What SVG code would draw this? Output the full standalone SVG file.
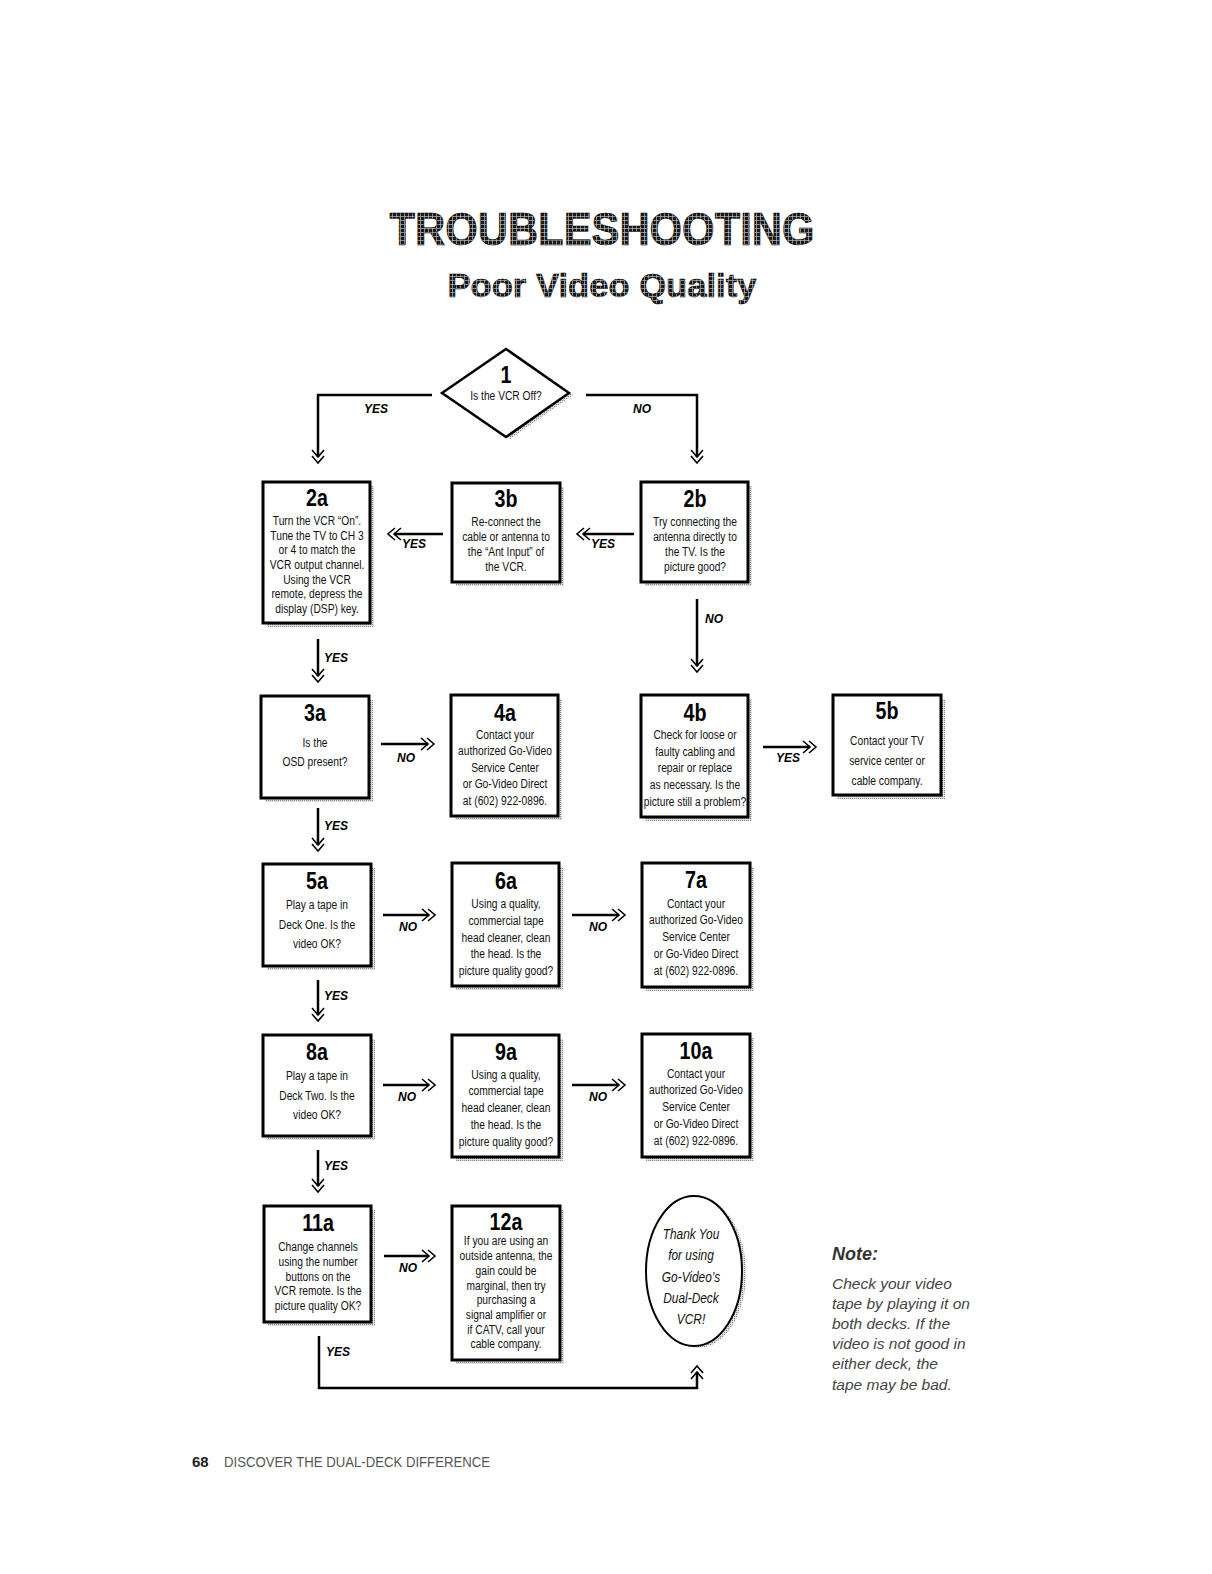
<svg xmlns="http://www.w3.org/2000/svg" width="1212" height="1574" viewBox="0 0 1212 1574">
<style>
.box{fill:#fff;stroke:#000;stroke-width:3}
.sh{fill:url(#dots)}
.hd{font-family:"Liberation Sans",Arial,sans-serif;font-weight:bold;font-size:24px;text-anchor:middle;fill:#000}
.bd{font-family:"Liberation Sans",Arial,sans-serif;font-size:12.5px;text-anchor:middle;fill:#111}
.lb{font-family:"Liberation Sans",Arial,sans-serif;font-weight:bold;font-style:italic;font-size:12px;text-anchor:middle;fill:#000}
.ls{font-family:"Liberation Sans",Arial,sans-serif;font-weight:bold;font-style:italic;font-size:12px;text-anchor:start;fill:#000}
.ln{fill:none;stroke:#000;stroke-width:2.5;marker-end:url(#chev)}
.ty{font-family:"Liberation Sans",Arial,sans-serif;font-style:italic;font-size:14px;text-anchor:middle;fill:#111}
.note{font-family:"Liberation Sans",Arial,sans-serif;font-style:italic;font-size:15.5px;fill:#444}
</style>
<defs>
<pattern id="dots" width="2" height="2" patternUnits="userSpaceOnUse"><rect width="2" height="2" fill="#e0e0e0"/><rect width="1" height="1" fill="#888"/></pattern>
<pattern id="ht" width="4" height="4" patternUnits="userSpaceOnUse"><rect width="4" height="4" fill="#1a1a1a"/><path d="M0,0.5H4M0.5,0V4" stroke="#bbb" stroke-width="0.7"/></pattern>
<marker id="chev" markerUnits="userSpaceOnUse" markerWidth="20" markerHeight="18" refX="8" refY="7" orient="auto" overflow="visible">
<path d="M1,1 L8,7 L1,13 M7,1 L14,7 L7,13" fill="none" stroke="#000" stroke-width="1.6"/>
</marker>
</defs>
<rect width="1212" height="1574" fill="#fff"/>

<g id="title">
<text x="602" y="245" font-family="Liberation Sans,Arial,sans-serif" font-weight="bold" font-size="46" text-anchor="middle" textLength="425" lengthAdjust="spacingAndGlyphs" fill="url(#ht)" stroke="#000" stroke-width="0.6">TROUBLESHOOTING</text>
<text x="602" y="297" font-family="Liberation Sans,Arial,sans-serif" font-weight="bold" font-size="33" text-anchor="middle" textLength="309" lengthAdjust="spacingAndGlyphs" fill="url(#ht)" stroke="#000" stroke-width="0.5">Poor Video Quality</text>
</g>

<g id="connectors">
<polyline class="ln" points="432,395 318,395 318,457"/>
<polyline class="ln" points="586,395 697,395 697,457"/>
<line class="ln" x1="634" y1="534" x2="583" y2="534"/>
<line class="ln" x1="443" y1="534" x2="394" y2="534"/>
<line class="ln" x1="697" y1="599" x2="697" y2="666"/>
<line class="ln" x1="318" y1="639" x2="318" y2="676"/>
<line class="ln" x1="381" y1="744" x2="428" y2="744"/>
<line class="ln" x1="763" y1="747" x2="810" y2="747"/>
<line class="ln" x1="318" y1="808" x2="318" y2="845"/>
<line class="ln" x1="383" y1="915" x2="429" y2="915"/>
<line class="ln" x1="572" y1="915" x2="619" y2="915"/>
<line class="ln" x1="318" y1="980" x2="318" y2="1015"/>
<line class="ln" x1="383" y1="1085" x2="429" y2="1085"/>
<line class="ln" x1="572" y1="1085" x2="619" y2="1085"/>
<line class="ln" x1="318" y1="1150" x2="318" y2="1186"/>
<line class="ln" x1="384" y1="1256" x2="429" y2="1256"/>
<polyline class="ln" points="319,1336 319,1388 697,1388 697,1372"/>
<text class="lb" x="376" y="413">YES</text>
<text class="lb" x="642" y="413">NO</text>
<text class="lb" x="603" y="548">YES</text>
<text class="lb" x="414" y="548">YES</text>
<text class="ls" x="705" y="623">NO</text>
<text class="ls" x="324" y="662">YES</text>
<text class="lb" x="406" y="762">NO</text>
<text class="lb" x="788" y="762">YES</text>
<text class="ls" x="324" y="830">YES</text>
<text class="lb" x="408" y="931">NO</text>
<text class="lb" x="598" y="931">NO</text>
<text class="ls" x="324" y="1000">YES</text>
<text class="lb" x="407" y="1101">NO</text>
<text class="lb" x="598" y="1101">NO</text>
<text class="ls" x="324" y="1170">YES</text>
<text class="lb" x="408" y="1272">NO</text>
<text class="ls" x="326" y="1356">YES</text>
</g>

<g id="n1">
<polygon points="446,395 510,351 573,395 510,439" fill="url(#dots)"/>
<polygon points="442,393 506,349 569,393 506,437" fill="#fff" stroke="#000" stroke-width="2.5"/>
<g transform="translate(506,0) scale(0.82,1)">
<text class="hd" x="0" y="383">1</text>
<text class="bd" x="0" y="400">Is the VCR Off?</text>
</g>
</g>

<g id="n2a">
<rect class="sh" x="267" y="486" width="107" height="141"/>
<rect class="box" x="263" y="482" width="107" height="141"/>
<g transform="translate(317,0) scale(0.82,1)">
<text class="hd" x="0" y="506">2a</text>
<text class="bd" x="0" y="525">Turn the VCR “On”.</text>
<text class="bd" x="0" y="540">Tune the TV to CH 3</text>
<text class="bd" x="0" y="554">or 4 to match the</text>
<text class="bd" x="0" y="569">VCR output channel.</text>
<text class="bd" x="0" y="584">Using the VCR</text>
<text class="bd" x="0" y="598">remote, depress the</text>
<text class="bd" x="0" y="613">display (DSP) key.</text>
</g>
</g>

<g id="n3b">
<rect class="sh" x="456" y="487" width="108" height="99"/>
<rect class="box" x="452" y="483" width="108" height="99"/>
<g transform="translate(506,0) scale(0.82,1)">
<text class="hd" x="0" y="507">3b</text>
<text class="bd" x="0" y="526">Re-connect the</text>
<text class="bd" x="0" y="541">cable or antenna to</text>
<text class="bd" x="0" y="556">the “Ant Input” of</text>
<text class="bd" x="0" y="571">the VCR.</text>
</g>
</g>

<g id="n2b">
<rect class="sh" x="645" y="486" width="107" height="100"/>
<rect class="box" x="641" y="482" width="107" height="100"/>
<g transform="translate(695,0) scale(0.82,1)">
<text class="hd" x="0" y="507">2b</text>
<text class="bd" x="0" y="526">Try connecting the</text>
<text class="bd" x="0" y="541">antenna directly to</text>
<text class="bd" x="0" y="556">the TV. Is the</text>
<text class="bd" x="0" y="571">picture good?</text>
</g>
</g>

<g id="n3a">
<rect class="sh" x="265" y="700" width="108" height="102"/>
<rect class="box" x="261" y="696" width="108" height="102"/>
<g transform="translate(315,0) scale(0.82,1)">
<text class="hd" x="0" y="721">3a</text>
<text class="bd" x="0" y="747">Is the</text>
<text class="bd" x="0" y="766">OSD present?</text>
</g>
</g>

<g id="n4a">
<rect class="sh" x="455" y="699" width="107" height="121"/>
<rect class="box" x="451" y="695" width="107" height="121"/>
<g transform="translate(505,0) scale(0.82,1)">
<text class="hd" x="0" y="721">4a</text>
<text class="bd" x="0" y="739">Contact your</text>
<text class="bd" x="0" y="755">authorized Go-Video</text>
<text class="bd" x="0" y="772">Service Center</text>
<text class="bd" x="0" y="788">or Go-Video Direct</text>
<text class="bd" x="0" y="805">at (602) 922-0896.</text>
</g>
</g>

<g id="n4b">
<rect class="sh" x="645" y="699" width="107" height="122"/>
<rect class="box" x="641" y="695" width="107" height="122"/>
<g transform="translate(695,0) scale(0.82,1)">
<text class="hd" x="0" y="721">4b</text>
<text class="bd" x="0" y="739">Check for loose or</text>
<text class="bd" x="0" y="756">faulty cabling and</text>
<text class="bd" x="0" y="772">repair or replace</text>
<text class="bd" x="0" y="789">as necessary. Is the</text>
<text class="bd" x="0" y="806">picture still a problem?</text>
</g>
</g>

<g id="n5b">
<rect class="sh" x="837" y="699" width="108" height="100"/>
<rect class="box" x="833" y="695" width="108" height="100"/>
<g transform="translate(887,0) scale(0.82,1)">
<text class="hd" x="0" y="719">5b</text>
<text class="bd" x="0" y="745">Contact your TV</text>
<text class="bd" x="0" y="765">service center or</text>
<text class="bd" x="0" y="785">cable company.</text>
</g>
</g>

<g id="n5a">
<rect class="sh" x="267" y="868" width="108" height="102"/>
<rect class="box" x="263" y="864" width="108" height="102"/>
<g transform="translate(317,0) scale(0.82,1)">
<text class="hd" x="0" y="889">5a</text>
<text class="bd" x="0" y="909">Play a tape in</text>
<text class="bd" x="0" y="929">Deck One. Is the</text>
<text class="bd" x="0" y="948">video OK?</text>
</g>
</g>

<g id="n6a">
<rect class="sh" x="456" y="867" width="107" height="123"/>
<rect class="box" x="452" y="863" width="107" height="123"/>
<g transform="translate(506,0) scale(0.82,1)">
<text class="hd" x="0" y="889">6a</text>
<text class="bd" x="0" y="908">Using a quality,</text>
<text class="bd" x="0" y="925">commercial tape</text>
<text class="bd" x="0" y="942">head cleaner, clean</text>
<text class="bd" x="0" y="958">the head. Is the</text>
<text class="bd" x="0" y="975">picture quality good?</text>
</g>
</g>

<g id="n7a">
<rect class="sh" x="646" y="867" width="108" height="124"/>
<rect class="box" x="642" y="863" width="108" height="124"/>
<g transform="translate(696,0) scale(0.82,1)">
<text class="hd" x="0" y="888">7a</text>
<text class="bd" x="0" y="908">Contact your</text>
<text class="bd" x="0" y="924">authorized Go-Video</text>
<text class="bd" x="0" y="941">Service Center</text>
<text class="bd" x="0" y="958">or Go-Video Direct</text>
<text class="bd" x="0" y="975">at (602) 922-0896.</text>
</g>
</g>

<g id="n8a">
<rect class="sh" x="267" y="1039" width="108" height="101"/>
<rect class="box" x="263" y="1035" width="108" height="101"/>
<g transform="translate(317,0) scale(0.82,1)">
<text class="hd" x="0" y="1060">8a</text>
<text class="bd" x="0" y="1080">Play a tape in</text>
<text class="bd" x="0" y="1100">Deck Two. Is the</text>
<text class="bd" x="0" y="1119">video OK?</text>
</g>
</g>

<g id="n9a">
<rect class="sh" x="456" y="1039" width="107" height="122"/>
<rect class="box" x="452" y="1035" width="107" height="122"/>
<g transform="translate(506,0) scale(0.82,1)">
<text class="hd" x="0" y="1060">9a</text>
<text class="bd" x="0" y="1079">Using a quality,</text>
<text class="bd" x="0" y="1095">commercial tape</text>
<text class="bd" x="0" y="1112">head cleaner, clean</text>
<text class="bd" x="0" y="1129">the head. Is the</text>
<text class="bd" x="0" y="1146">picture quality good?</text>
</g>
</g>

<g id="n10a">
<rect class="sh" x="646" y="1038" width="108" height="123"/>
<rect class="box" x="642" y="1034" width="108" height="123"/>
<g transform="translate(696,0) scale(0.82,1)">
<text class="hd" x="0" y="1059">10a</text>
<text class="bd" x="0" y="1078">Contact your</text>
<text class="bd" x="0" y="1094">authorized Go-Video</text>
<text class="bd" x="0" y="1111">Service Center</text>
<text class="bd" x="0" y="1128">or Go-Video Direct</text>
<text class="bd" x="0" y="1145">at (602) 922-0896.</text>
</g>
</g>

<g id="n11a">
<rect class="sh" x="268" y="1210" width="107" height="116"/>
<rect class="box" x="264" y="1206" width="107" height="116"/>
<g transform="translate(318,0) scale(0.82,1)">
<text class="hd" x="0" y="1231">11a</text>
<text class="bd" x="0" y="1251">Change channels</text>
<text class="bd" x="0" y="1266">using the number</text>
<text class="bd" x="0" y="1281">buttons on the</text>
<text class="bd" x="0" y="1295">VCR remote. Is the</text>
<text class="bd" x="0" y="1310">picture quality OK?</text>
</g>
</g>

<g id="n12a">
<rect class="sh" x="456" y="1210" width="108" height="154"/>
<rect class="box" x="452" y="1206" width="108" height="154"/>
<g transform="translate(506,0) scale(0.82,1)">
<text class="hd" x="0" y="1230">12a</text>
<text class="bd" x="0" y="1245">If you are using an</text>
<text class="bd" x="0" y="1260">outside antenna, the</text>
<text class="bd" x="0" y="1275">gain could be</text>
<text class="bd" x="0" y="1290">marginal, then try</text>
<text class="bd" x="0" y="1304">purchasing a</text>
<text class="bd" x="0" y="1319">signal amplifier or</text>
<text class="bd" x="0" y="1334">if CATV, call your</text>
<text class="bd" x="0" y="1348">cable company.</text>
</g>
</g>

<g id="thanks">
<ellipse cx="698" cy="1273" rx="48" ry="75" fill="url(#dots)"/>
<ellipse cx="694" cy="1271" rx="48" ry="75" fill="#fff" stroke="#000" stroke-width="2"/>
<g transform="translate(691,0) scale(0.85,1)">
<text class="ty" x="0" y="1239">Thank You</text>
<text class="ty" x="0" y="1260">for using</text>
<text class="ty" x="0" y="1282">Go-Video’s</text>
<text class="ty" x="0" y="1303">Dual-Deck</text>
<text class="ty" x="0" y="1324">VCR!</text>
</g>
</g>

<g id="note">
<text x="832" y="1260" font-family="Liberation Sans,Arial,sans-serif" font-weight="bold" font-style="italic" font-size="18" fill="#333">Note:</text>
<text class="note" x="832" y="1289">Check your video</text>
<text class="note" x="832" y="1309">tape by playing it on</text>
<text class="note" x="832" y="1329">both decks. If the</text>
<text class="note" x="832" y="1349">video is not good in</text>
<text class="note" x="832" y="1369">either deck, the</text>
<text class="note" x="832" y="1390">tape may be bad.</text>
</g>

<g id="footer">
<text x="192" y="1467" font-family="Liberation Sans,Arial,sans-serif" font-weight="bold" font-size="15" fill="#222">68</text>
<text x="224" y="1467" font-family="Liberation Sans,Arial,sans-serif" font-size="14" fill="#555" textLength="266" lengthAdjust="spacingAndGlyphs">DISCOVER THE DUAL-DECK DIFFERENCE</text>
</g>
</svg>
